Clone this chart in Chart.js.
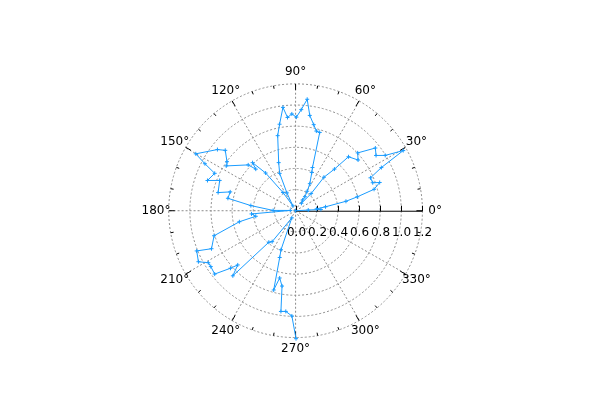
<!DOCTYPE html>
<html>
<head>
<meta charset="utf-8">
<script src="https://cdn.jsdelivr.net/npm/chart.js@4/dist/chart.umd.min.js"></script>
<style>
  html, body { margin: 0; padding: 0; background: #fff; }
  #wrap { width: 600px; height: 400px; }
</style>
</head>
<body>
<div id="wrap"><canvas id="chart" width="600" height="400"></canvas></div>
<script>
// polar data (angle in degrees, radius)
const thetaDeg = [
  0, 3, 3, 5.2, 7.5, 10.7, 12.8, 15.4, 18.7, 20.1, 23.9, 26.9, 29.4, 31.9, 34.7, 38.4,
  43.2, 39.3, 45.8, 47.2, 50.0, 48.0, 52.0, 56.8, 56.4, 59.5, 62.4, 67.2, 68.8, 73.0,
  75.5, 78.2, 81.6, 84.1, 86.8, 89.5, 92.2, 94.9, 96.9, 100.4, 103.3, 109.2, 112.9,
  115.7, 119.0, 124.4, 128.2, 131.6, 133.5, 135.7, 146.9, 144.2, 139.1, 141.7, 150.1,
  152.4, 155.0, 160.9, 158.1, 166.7, 163.8, 169.5, 173.4, 179.2, 177.0, 184.2, 188.0,
  191.2, 197.2, 204.5, 202.3, 207.9, 211.0, 213.6, 218.3, 221.7, 223.4, 226.3, 229.9,
  233.1, 242.5, 249.7, 251.4, 254.7, 256.8, 259.9, 261.8, 264.5, 268.0, 270.2
];
const radius = [
  0.0, 0.12, 0.24, 0.20, 0.286, 0.485, 0.599, 0.770, 0.840, 0.777, 0.775, 0.910, 1.169, 0.999, 0.926, 0.963,
  0.806, 0.764, 0.718, 0.541, 0.417, 0.22, 0.09, 0.122, 0.160, 0.216, 0.291, 0.396, 0.442, 0.781,
  0.785, 0.839, 0.919, 1.069, 0.966, 0.893, 0.924, 0.893, 0.993, 0.839, 0.736, 0.486, 0.387,
  0.189, 0.053, 0.211, 0.458, 0.613, 0.547, 0.626, 0.783, 0.800, 0.880, 0.942, 1.089,
  0.968, 0.844, 0.882, 0.774, 0.753, 0.644, 0.651, 0.426, 0.212, 0.05, 0.418, 0.380,
  0.542, 0.807, 0.874, 1.011, 1.040, 0.963, 0.963, 0.975, 0.825, 0.753, 0.859, 0.393,
  0.369, 0.077, 0.397, 0.471, 0.784, 0.659, 0.730, 0.971, 0.965, 1.005, 1.221
];
const radialTicks = [0.0, 0.2, 0.4, 0.6, 0.8, 1.0, 1.2];
const radialLabels = ["0.0", "0.2", "0.4", "0.6", "0.8", "1.0", "1.2"];
const angleTicks = [0, 30, 60, 90, 120, 150, 180, 210, 240, 270, 300, 330];
const angleLabels = ["0°", "30°", "60°", "90°", "120°", "150°", "180°", "210°", "240°", "270°", "300°", "330°"];

const lineColor = "#1a9cff";
const fontSpec = "12px 'DejaVu Sans', sans-serif";

// place the pole at (295.5, 211) with 107.5 px per unit
const cxPx = 295.5, cyPx = 211, unitPx = 107.5;

let points = thetaDeg.map((t, i) => ({
  x: radius[i] * Math.cos(t * Math.PI / 180),
  y: radius[i] * Math.sin(t * Math.PI / 180),
}));

const polarGrid = {
  id: "polarGrid",
  beforeDatasetsDraw(chart) {
    const { ctx, scales: { x, y } } = chart;
    const px = (r, deg) => x.getPixelForValue(r * Math.cos(deg * Math.PI / 180));
    const py = (r, deg) => y.getPixelForValue(r * Math.sin(deg * Math.PI / 180));
    const rMax = radialTicks[radialTicks.length - 1];
    const cx = x.getPixelForValue(0), cy = y.getPixelForValue(0);
    const rPx = x.getPixelForValue(rMax) - cx;

    ctx.save();
    // dotted circles
    ctx.strokeStyle = "#8c8c8c";
    ctx.lineWidth = 1;
    ctx.setLineDash([2, 2]);
    radialTicks.forEach(r => {
      if (r === 0) return;
      const rr = x.getPixelForValue(r) - cx;
      ctx.beginPath();
      ctx.arc(cx, cy, rr, 0, Math.PI * 2);
      ctx.stroke();
    });
    // dotted spokes
    angleTicks.forEach(a => {
      if (a === 0) return;
      ctx.beginPath();
      ctx.moveTo(cx, cy);
      ctx.lineTo(px(rMax, a), py(rMax, a));
      ctx.stroke();
    });
    ctx.setLineDash([]);

    // tick marks on the rim, every 10 degrees
    ctx.strokeStyle = "#000";
    for (let a = 0; a < 360; a += 10) {
      const len = a % 30 === 0 ? 6 : 3;
      const rad = a * Math.PI / 180;
      ctx.beginPath();
      ctx.moveTo(cx + (rPx - len) * Math.cos(rad), cy - (rPx - len) * Math.sin(rad));
      ctx.lineTo(cx + rPx * Math.cos(rad), cy - rPx * Math.sin(rad));
      ctx.stroke();
    }

    // radial axis along 0 degrees
    ctx.beginPath();
    ctx.moveTo(cx, cy + 0.5);
    ctx.lineTo(cx + rPx, cy + 0.5);
    ctx.stroke();
    ctx.fillStyle = "#000";
    ctx.font = fontSpec;
    ctx.textAlign = "center";
    ctx.textBaseline = "middle";
    radialTicks.forEach((r, i) => {
      const tx = Math.round(x.getPixelForValue(r)) + 0.5;
      ctx.beginPath();
      ctx.moveTo(tx, cy - 5);
      ctx.lineTo(tx, cy + 0.5);
      ctx.stroke();
      ctx.fillText(radialLabels[i], tx, cy + 22);
    });

    // angle labels
    angleTicks.forEach((a, i) => {
      ctx.fillText(angleLabels[i], px(rMax * 1.1, a), py(rMax * 1.1, a));
    });
    ctx.restore();
  },
};

new Chart(document.getElementById("chart"), {
  type: "scatter",
  data: {
    datasets: [{
      data: points,
      showLine: true,
      borderColor: lineColor,
      backgroundColor: lineColor,
      borderWidth: 1,
      pointStyle: "cross",
      pointRadius: 2,
      pointBorderWidth: 1,
      pointBorderColor: lineColor,
      tension: 0,
    }],
  },
  options: {
    responsive: false,
    animation: false,
    devicePixelRatio: 1,
    layout: { padding: 0 },
    plugins: { legend: { display: false }, tooltip: { enabled: false } },
    scales: {
      x: { type: "linear", display: false, min: -cxPx / unitPx, max: (600 - cxPx) / unitPx },
      y: { type: "linear", display: false, min: -(400 - cyPx) / unitPx, max: cyPx / unitPx },
    },
  },
  plugins: [polarGrid],
});
</script>
</body>
</html>
